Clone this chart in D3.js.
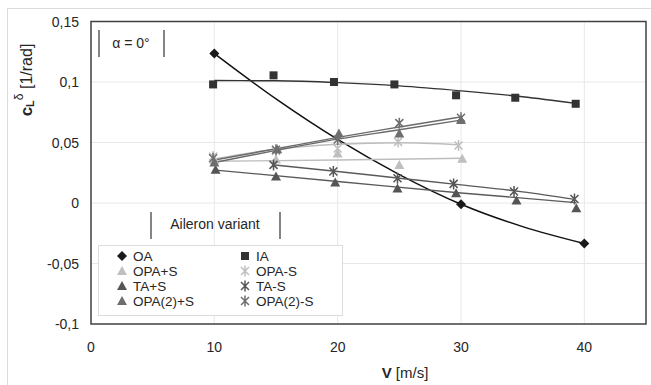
<!DOCTYPE html>
<html>
<head>
<meta charset="utf-8">
<script src="https://cdn.jsdelivr.net/npm/d3@7"></script>
<style>
  body { margin: 0; background: #fff; }
  text { font-family: "Liberation Sans", Arial, sans-serif; fill: #262626; }
</style>
</head>
<body>
<script>
// axis ticks
const xTicks = [0, 10, 20, 30, 40];
const yTicks = [-0.1, -0.05, 0, 0.05, 0.1, 0.15];

// measured points, V [m/s] and cL^delta [1/rad]
const V_OA = [10, 30, 40];
const cl_OA = [0.1235, -0.001, -0.0335];
const V_IA = [9.9, 14.8, 19.7, 24.6, 29.6, 34.4, 39.3];
const cl_IA = [0.098, 0.1055, 0.1, 0.098, 0.089, 0.087, 0.082];
const V_OPAplus = [10, 15, 20, 25, 30.1];
const cl_OPAplus = [0.0355, 0.036, 0.041, 0.0315, 0.0365];
const V_OPAminus = [9.9, 15, 20, 24.9, 29.8];
const cl_OPAminus = [0.0385, 0.043, 0.045, 0.0505, 0.0475];
const V_TAplus = [10.1, 15, 19.8, 24.85, 29.6, 34.5, 39.35];
const cl_TAplus = [0.0275, 0.022, 0.017, 0.012, 0.008, 0.002, -0.0043];
const V_TAminus = [14.8, 19.65, 24.85, 29.4, 34.3, 39.2];
const cl_TAminus = [0.0315, 0.026, 0.0205, 0.0158, 0.0095, 0.0033];
const V_OPA2plus = [10, 15.1, 20.1, 25, 30];
const cl_OPA2plus = [0.0335, 0.0445, 0.0575, 0.0575, 0.0685];
const V_OPA2minus = [9.9, 15, 20, 25, 30];
const cl_OPA2minus = [0.037, 0.044, 0.0525, 0.066, 0.0705];

// trend lines
const tV_OA = [10, 15, 20, 25, 30, 35, 40];
const t_OA = [0.1235, 0.086, 0.0525, 0.0235, -0.001, -0.0195, -0.0335];
const tV_IA = [10, 15, 20, 25, 30, 35, 39.3];
const t_IA = [0.1012, 0.101, 0.0995, 0.0968, 0.0927, 0.0878, 0.0823];
const tV_OPAplus = [10, 20, 30.1];
const t_OPAplus = [0.0345, 0.0355, 0.037];
const tV_OPAminus = [10, 15, 20, 25, 29.8];
const t_OPAminus = [0.0365, 0.0445, 0.0485, 0.0498, 0.0482];
const tV_TAplus = [10.1, 20, 30, 39.35];
const t_TAplus = [0.0272, 0.0178, 0.0083, 0.0003];
const tV_TAminus = [14.8, 20, 25, 30, 35, 39.2];
const t_TAminus = [0.0315, 0.026, 0.0205, 0.015, 0.0092, 0.003];
const tV_OPA2plus = [10, 15, 20, 25, 30];
const t_OPA2plus = [0.0335, 0.0435, 0.0528, 0.0605, 0.0685];
const tV_OPA2minus = [10, 15, 20, 25, 30];
const t_OPA2minus = [0.0355, 0.0448, 0.0542, 0.0628, 0.0712];

const series = [
  {name: "OA", V: V_OA, cl: cl_OA, tV: tV_OA, t: t_OA, shape: "diamond", color: "#1a1a1a", line: "#111", lw: 1.5},
  {name: "IA", V: V_IA, cl: cl_IA, tV: tV_IA, t: t_IA, shape: "square", color: "#333", line: "#333", lw: 1.4},
  {name: "OPA+S", V: V_OPAplus, cl: cl_OPAplus, tV: tV_OPAplus, t: t_OPAplus, shape: "triangle", color: "#bfbfbf", line: "#bdbdbd", lw: 1.4},
  {name: "OPA-S", V: V_OPAminus, cl: cl_OPAminus, tV: tV_OPAminus, t: t_OPAminus, shape: "star", color: "#bfbfbf", line: "#bdbdbd", lw: 1.4},
  {name: "TA+S", V: V_TAplus, cl: cl_TAplus, tV: tV_TAplus, t: t_TAplus, shape: "triangle", color: "#555", line: "#5a5a5a", lw: 1.4},
  {name: "TA-S", V: V_TAminus, cl: cl_TAminus, tV: tV_TAminus, t: t_TAminus, shape: "star", color: "#555", line: "#5a5a5a", lw: 1.4},
  {name: "OPA(2)+S", V: V_OPA2plus, cl: cl_OPA2plus, tV: tV_OPA2plus, t: t_OPA2plus, shape: "triangle", color: "#6e6e6e", line: "#6a6a6a", lw: 1.4},
  {name: "OPA(2)-S", V: V_OPA2minus, cl: cl_OPA2minus, tV: tV_OPA2minus, t: t_OPA2minus, shape: "star", color: "#6e6e6e", line: "#6a6a6a", lw: 1.4}
];

const W = 651, H = 385;
const svg = d3.select("body").append("svg").attr("width", W).attr("height", H);

const x = d3.scaleLinear().domain([0, 45]).range([91, 646]);
const y = d3.scaleLinear().domain([-0.1, 0.15]).range([324, 21.5]);

// outer chart frame
svg.append("rect").attr("x", 7.5).attr("y", 8.5).attr("width", 700).attr("height", 500)
  .attr("fill", "none").attr("stroke", "#dcdcdc");

// grid
svg.append("g").selectAll("line").data(yTicks.slice(1, -1)).join("line")
  .attr("x1", 91).attr("x2", 646).attr("y1", d => y(d)).attr("y2", d => y(d))
  .attr("stroke", "#e8e8e8");
svg.append("g").selectAll("line").data(xTicks.slice(1)).join("line")
  .attr("y1", 21.5).attr("y2", 324).attr("x1", d => x(d)).attr("x2", d => x(d))
  .attr("stroke", "#e8e8e8");

// tick labels
const fmt = d => String(d).replace(".", ",");
svg.append("g").selectAll("text").data(yTicks).join("text")
  .attr("x", 79).attr("y", d => y(d) + 5).attr("text-anchor", "end")
  .attr("font-size", 14).text(fmt);
svg.append("g").selectAll("text").data(xTicks).join("text")
  .attr("x", d => x(d)).attr("y", 352).attr("text-anchor", "middle")
  .attr("font-size", 14).text(d => d);

// axis titles
const xt = svg.append("text").attr("x", 405).attr("y", 378).attr("text-anchor", "middle").attr("font-size", 15);
xt.append("tspan").attr("font-weight", "bold").text("V");
xt.append("tspan").text(" [m/s]");

const yt = svg.append("text").attr("transform", "translate(32,80) rotate(-90)")
  .attr("text-anchor", "middle").attr("font-size", 16);
yt.append("tspan").attr("font-weight", "bold").attr("font-size", 17).text("c");
yt.append("tspan").attr("font-weight", "bold").attr("font-size", 11).attr("dy", 2).text("L");
yt.append("tspan").attr("font-size", 12).attr("dy", -11).text("δ");
yt.append("tspan").attr("dy", 9).text(" [1/rad]");

// trend lines
const line = d3.line().x(d => x(d[0])).y(d => y(d[1])).curve(d3.curveMonotoneX);
svg.append("g").selectAll("path").data(series).join("path")
  .attr("d", s => line(d3.zip(s.tV, s.t)))
  .attr("fill", "none").attr("stroke", s => s.line).attr("stroke-width", s => s.lw);

// markers
function marker(g, shape, color) {
  if (shape === "diamond") {
    g.append("path").attr("d", "M0,-5L5,0L0,5L-5,0Z").attr("fill", color);
  } else if (shape === "square") {
    g.append("rect").attr("x", -4).attr("y", -4).attr("width", 8).attr("height", 8).attr("fill", color);
  } else if (shape === "triangle") {
    g.append("path").attr("d", "M0,-5L5,4L-5,4Z").attr("fill", color);
  } else {
    g.append("path").attr("d", "M-4,-4L4,4M-4,4L4,-4M0,-5.5L0,5.5")
      .attr("stroke", color).attr("stroke-width", 1.5).attr("fill", "none");
  }
}
series.forEach(s => {
  d3.zip(s.V, s.cl).forEach(p => {
    const g = svg.append("g").attr("transform", `translate(${x(p[0])},${y(p[1])})`);
    marker(g, s.shape, s.color);
  });
});

// plot frame
svg.append("rect").attr("x", 91).attr("y", 21.5).attr("width", 555).attr("height", 302.5)
  .attr("fill", "none").attr("stroke", "#404040").attr("stroke-width", 1.5);

// alpha label box
svg.append("g").selectAll("line").data([99, 164]).join("line")
  .attr("x1", d => d).attr("x2", d => d).attr("y1", 30).attr("y2", 57)
  .attr("stroke", "#333").attr("stroke-width", 1.2);
svg.append("text").attr("x", 131).attr("y", 48).attr("text-anchor", "middle")
  .attr("font-size", 14).text("α = 0°");

// legend title box
svg.append("g").selectAll("line").data([151, 280]).join("line")
  .attr("x1", d => d).attr("x2", d => d).attr("y1", 212).attr("y2", 239)
  .attr("stroke", "#333").attr("stroke-width", 1.2);
svg.append("text").attr("x", 215).attr("y", 229).attr("text-anchor", "middle")
  .attr("font-size", 14).text("Aileron variant");

// legend
svg.append("rect").attr("x", 98.5).attr("y", 245.5).attr("width", 244).attr("height", 70)
  .attr("fill", "#fff").attr("stroke", "#dcdcdc");
const rowY = [256, 271, 286, 301];
series.forEach((s, i) => {
  const cx = i % 2 === 0 ? 122 : 245;
  const cy = rowY[Math.floor(i / 2)];
  const g = svg.append("g").attr("transform", `translate(${cx},${cy})`);
  marker(g, s.shape, s.color);
  svg.append("text").attr("x", cx + 11).attr("y", cy + 5).attr("font-size", 13.5).text(s.name);
});
</script>
</body>
</html>
